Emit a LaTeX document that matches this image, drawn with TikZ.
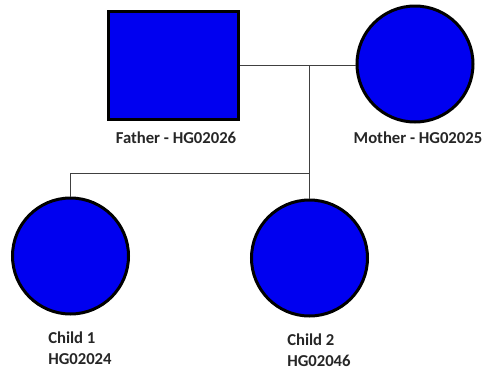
\documentclass[tikz,border=0pt]{standalone}
\usepackage{fontspec}
\setmainfont{Carlito}
\usetikzlibrary{positioning}
\definecolor{pedblue}{RGB}{0,0,240}
\tikzset{
  male/.style={draw=black, line width=2.25pt, fill=pedblue, minimum width=97.5pt, minimum height=81pt, inner sep=0pt},
  female/.style={circle, draw=black, line width=2.25pt, fill=pedblue, minimum size=87pt, inner sep=0pt},
  pedline/.style={draw=black!75, line width=0.75pt},
  tag/.style={font=\fontsize{12.5}{16}\selectfont\bfseries, text=black!85, inner sep=0pt}
}
\begin{document}
\begin{tikzpicture}[x=0.75pt,y=-0.75pt]
\path[use as bounding box] (0,0) rectangle (487,369);
\node[male] (father) at (173.5,65.5) {};
\node[female] (mother) at (415,64) {};
\node[female] (child1) at (70.5,256) {};
\node[female] (child2) at (309.5,258) {};
\node[tag] (fatherlbl) at (176,138) {Father - HG02026};
\node[tag] (motherlbl) at (418,138) {Mother - HG02025};
\node[tag, align=left, anchor=west] (child1lbl) at (48,348) {Child 1\\HG02024};
\node[tag, align=left, anchor=west] (child2lbl) at (287,350) {Child 2\\HG02046};
\coordinate (mate) at (309.5,65.5);
\coordinate (sibs) at (309.5,173);
\draw[pedline] (father.east) -- (father.east -| mother.west);
\draw[pedline] (mate) -- (child2.north);
\draw[pedline] (sibs) -| (child1.north);
\end{tikzpicture}
\end{document}
